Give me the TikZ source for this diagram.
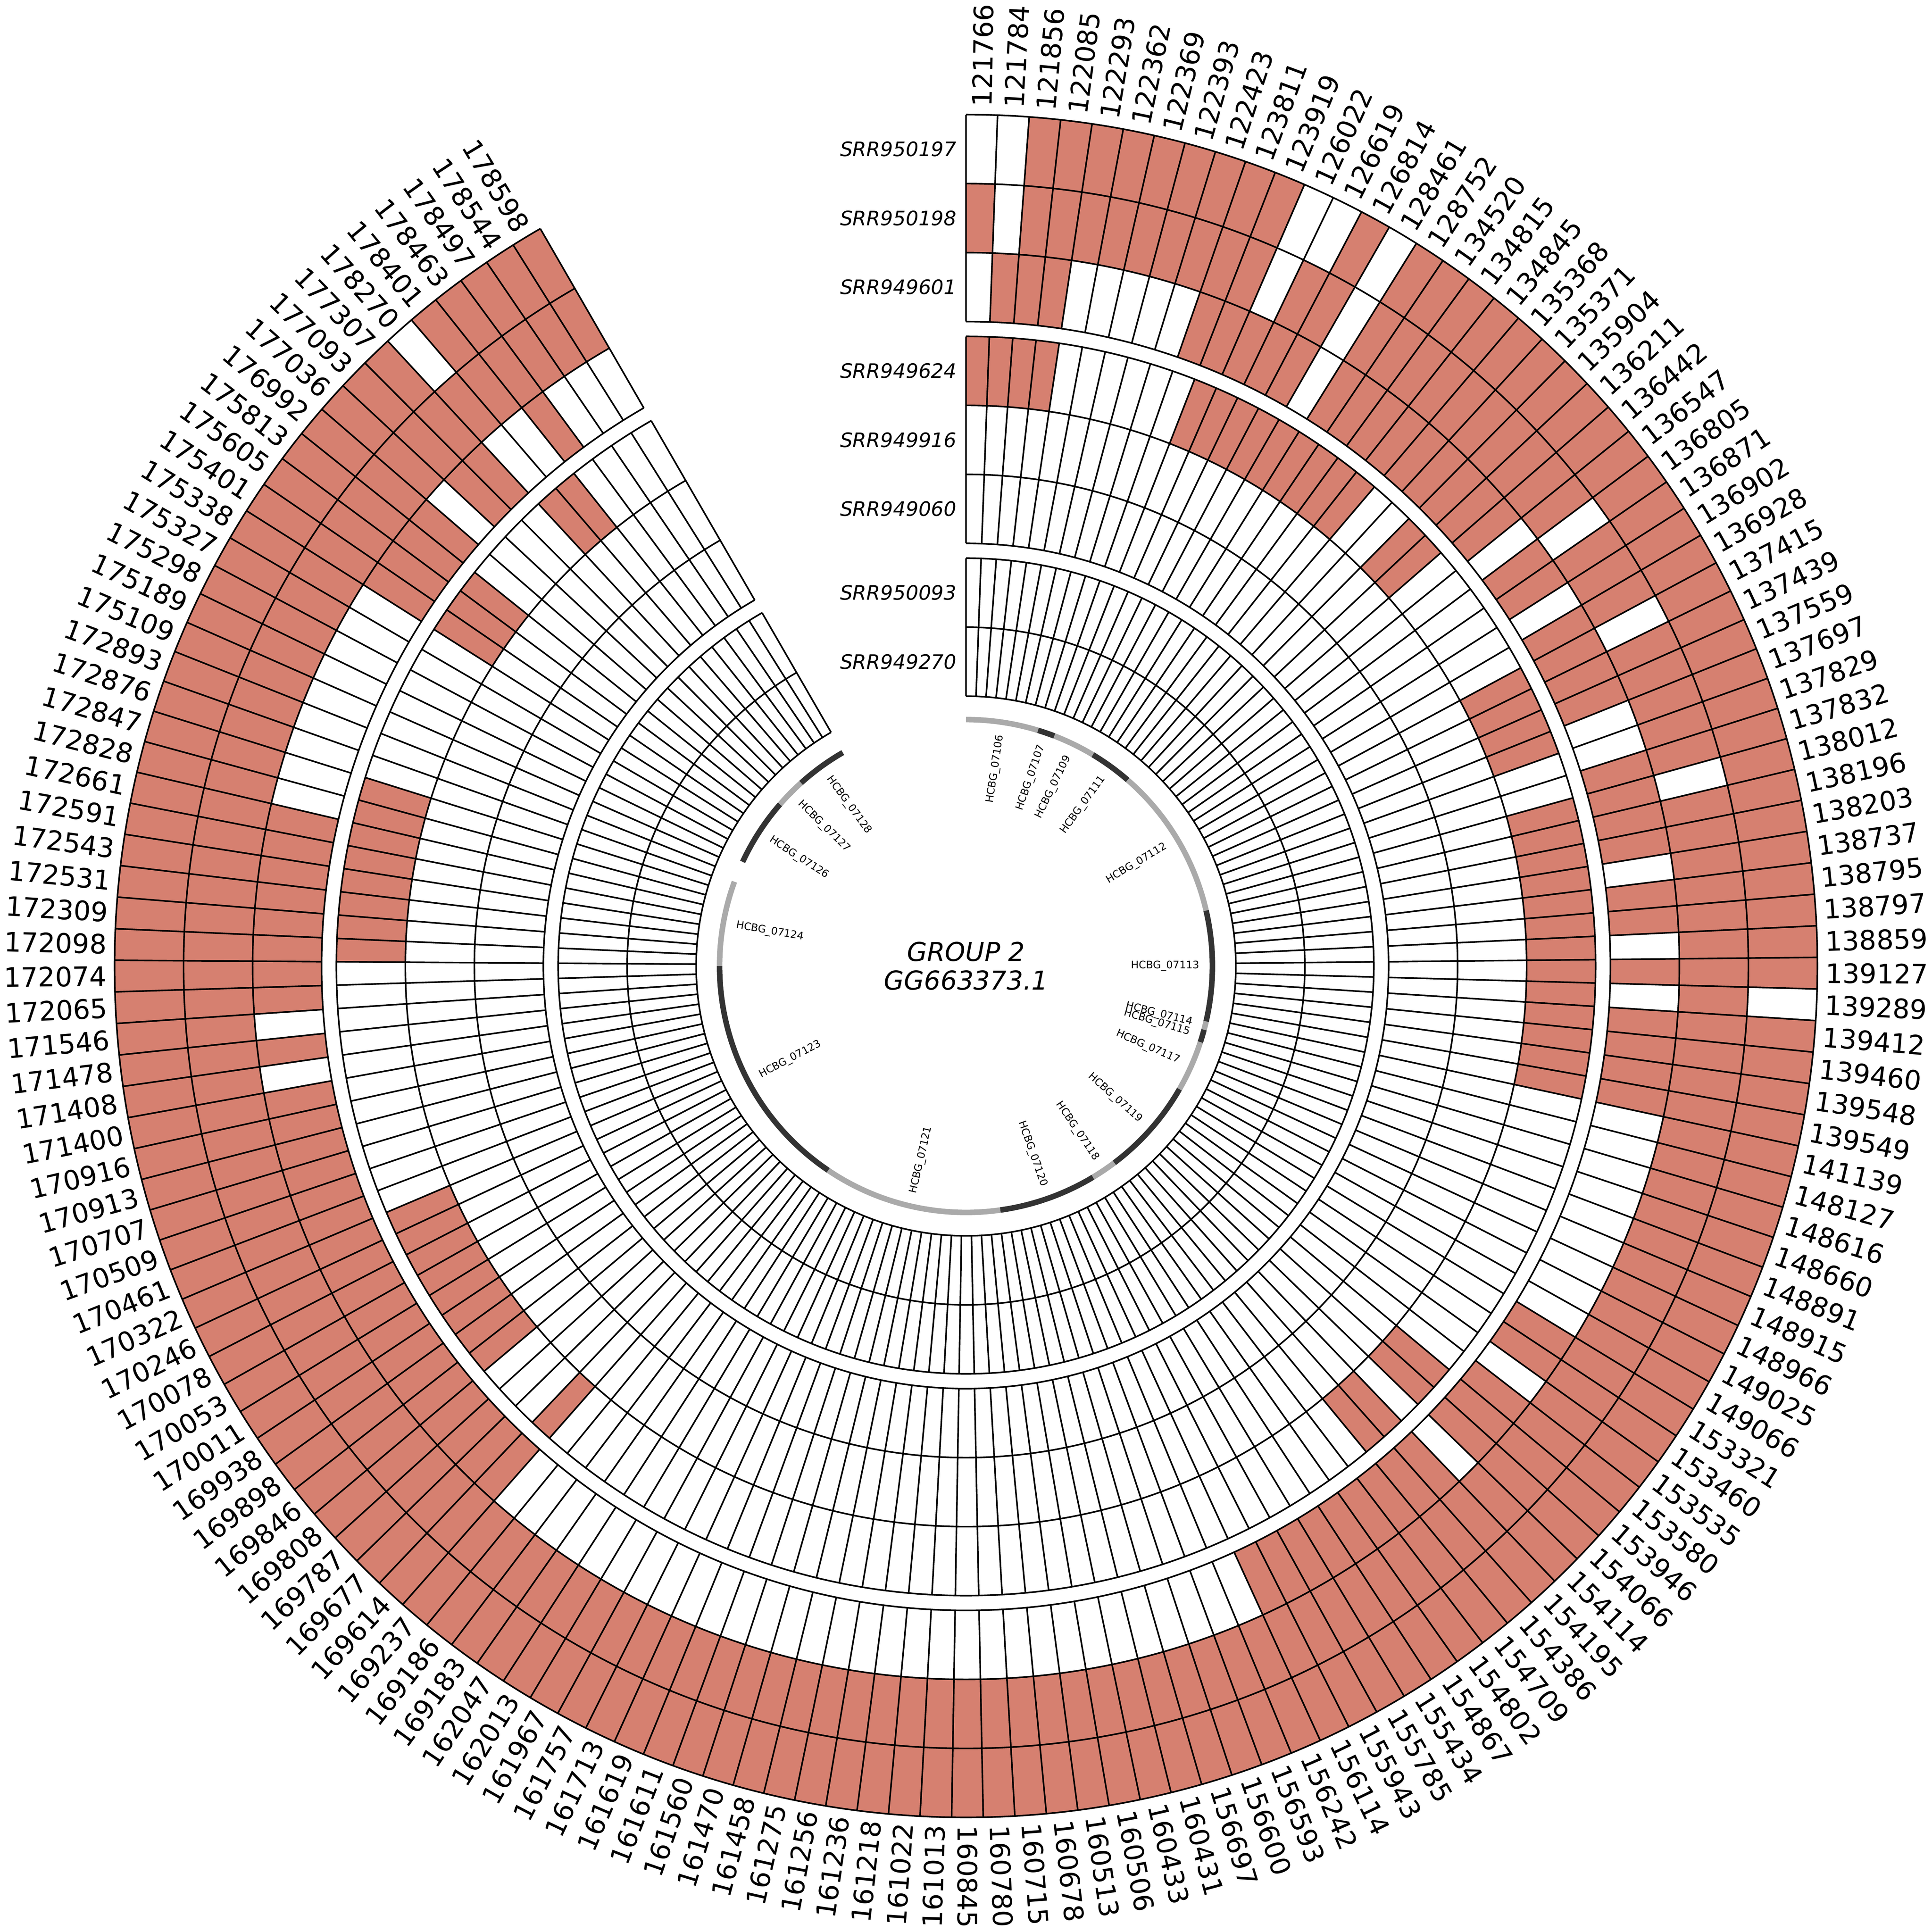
\documentclass[tikz,border=0pt]{standalone}
\usepackage{fontspec}
\setmainfont{DejaVu Sans}
\usepackage{xcolor}
\definecolor{heat}{RGB}{214,128,112}
\definecolor{genelight}{RGB}{170,170,170}
\definecolor{genedark}{RGB}{51,51,51}
\newcommand{\colw}{2.129032}
\newcommand{\heatcell}[3]{%
  \pgfmathsetmacro{\angA}{90-(#3-1)*\colw}%
  \pgfmathsetmacro{\angB}{90-#3*\colw}%
  \fill[heat] (\angA:#2) arc[start angle=\angA,end angle=\angB,radius=#2]
    -- (\angB:#1) arc[start angle=\angB,end angle=\angA,radius=#1] -- cycle;}

\begin{document}
\begin{tikzpicture}[x=0.1mm,y=0.1mm,
    grid/.style={black,line width=0.13mm},
    collabel/.style={font=\fontsize{6.2}{7}\selectfont,inner sep=0pt},
    rowlabel/.style={font=\fontsize{4.6}{5.5}\selectfont\itshape,anchor=east,inner sep=0pt},
    genelabel/.style={font=\fontsize{2.4}{3}\selectfont,inner sep=0pt},
    gene/.style={line width=0.45mm}]
\useasboundingbox (-784,-784) rectangle (784,784);

% filled cells, one loop per sample
\foreach \runA/\runB in {3/11,14/14,16/43,45/149,151/155}
  \foreach \kk in {\runA,...,\runB} {\heatcell{635}{691}{\kk}}
\foreach \runA/\runB in {1/1,3/11,13/14,16/25,27/29,31/35,37/155}
  \foreach \kk in {\runA,...,\runB} {\heatcell{579}{635}{\kk}}
\foreach \runA/\runB in {2/4,10/14,16/24,26/27,29/32,35/38,40/41,43/43,45/48,58/59,61/63,65/73,105/122,124/124,126/133,143/146,148/149,152/152}
  \foreach \kk in {\runA,...,\runB} {\heatcell{523}{579}{\kk}}
\foreach \runA/\runB in {1/4,11/19,22/23,30/33,36/48,62/63,65/66,105/105,109/116,128/135,143/145,150/151}
  \foreach \kk in {\runA,...,\runB} {\heatcell{455}{511}{\kk}}

% cell borders
\foreach \rad in {691,635,579,523,511,455,399,343,331,275,219}
  \draw[grid] (90:\rad) arc[start angle=90,end angle=-240,radius=\rad];
\foreach \bd in {0,...,155} {
  \pgfmathsetmacro{\ang}{90-\bd*\colw}
  \draw[grid] (\ang:523) -- (\ang:691);
  \draw[grid] (\ang:343) -- (\ang:511);
  \draw[grid] (\ang:219) -- (\ang:331);
}

% sample names
\node[rowlabel] (s950197) at (-7,663) {SRR950197};
\node[rowlabel] (s950198) at (-7,607) {SRR950198};
\node[rowlabel] (s949601) at (-7,551) {SRR949601};
\node[rowlabel] (s949624) at (-7,483) {SRR949624};
\node[rowlabel] (s949916) at (-7,427) {SRR949916};
\node[rowlabel] (s949060) at (-7,371) {SRR949060};
\node[rowlabel] (s950093) at (-7,303) {SRR950093};
\node[rowlabel] (s949270) at (-7,247) {SRR949270};

% positions
\foreach \lbl [count=\kk] in {121766,121784,121856,122085,122293,122362,122369,122393,122423,123811,
    123919,126022,126619,126814,128461,128752,134520,134815,134845,135368,
    135371,135904,136211,136442,136547,136805,136871,136902,136928,137415,
    137439,137559,137697,137829,137832,138012,138196,138203,138737,138795,
    138797,138859,139127,139289,139412,139460,139548,139549,141139,148127,
    148616,148660,148891,148915,148966,149025,149066,153321,153460,153535,
    153580,153946,154066,154114,154195,154386,154709,154802,154867,155434,
    155785,155943,156114,156242,156593,156600,156697,160431,160433,160506,
    160513,160678,160715,160780,160845,161013,161022,161218,161236,161256,
    161275,161458,161470,161560,161611,161619,161713,161757,161967,162013,
    162047,169183,169186,169237,169614,169677,169787,169808,169846,169898,
    169938,170011,170053,170078,170246,170322,170461,170509,170707,170913,
    170916,171400,171408,171478,171546,172065,172074,172098,172309,172531,
    172543,172591,172661,172828,172847,172876,172893,175109,175189,175298,
    175327,175338,175401,175605,175813,176992,177036,177093,177307,178270,
    178401,178463,178497,178544,178598} {
  \pgfmathsetmacro{\ang}{90-(\kk-0.5)*\colw}
  \ifnum\kk<86
    \node[collabel,anchor=west,rotate=\ang] (c\kk) at (\ang:697) {\lbl};
  \else
    \node[collabel,anchor=east,rotate=\ang+180] (c\kk) at (\ang:697) {\lbl};
  \fi
}

% gene track
\foreach \gs/\ge/\gcol/\gid in {0/17/genelight/07106,17/21/genedark/07107,21/31/genelight/07109,
    31/41/genedark/07111,41/77/genelight/07112,77/103/genedark/07113,103/105/genelight/07114,
    105/108/genedark/07115,108/120/genelight/07117,120/143/genedark/07119,143/149/genelight/07118,
    149/172/genedark/07120,172/214/genelight/07121,214/270/genedark/07123,270/290/genelight/07124,
    295/311/genedark/07126,311/318/genelight/07127,318/330/genedark/07128} {
  \pgfmathsetmacro{\angA}{90-\gs}
  \pgfmathsetmacro{\angB}{90-\ge}
  \pgfmathsetmacro{\angM}{90-(\gs+\ge)/2}
  \draw[gene,\gcol] (\angA:200) arc[start angle=\angA,end angle=\angB,radius=200];
  \ifdim\angM pt>-90pt
    \node[genelabel,anchor=east,rotate=\angM] (g\gid) at (\angM:190) {HCBG\_\gid};
  \else
    \node[genelabel,anchor=west,rotate=\angM+180] (g\gid) at (\angM:190) {HCBG\_\gid};
  \fi
}

\node[font=\fontsize{6}{6.6}\selectfont\itshape,align=center] (title) at (0,0) {GROUP 2\\GG663373.1};
\end{tikzpicture}
\end{document}
